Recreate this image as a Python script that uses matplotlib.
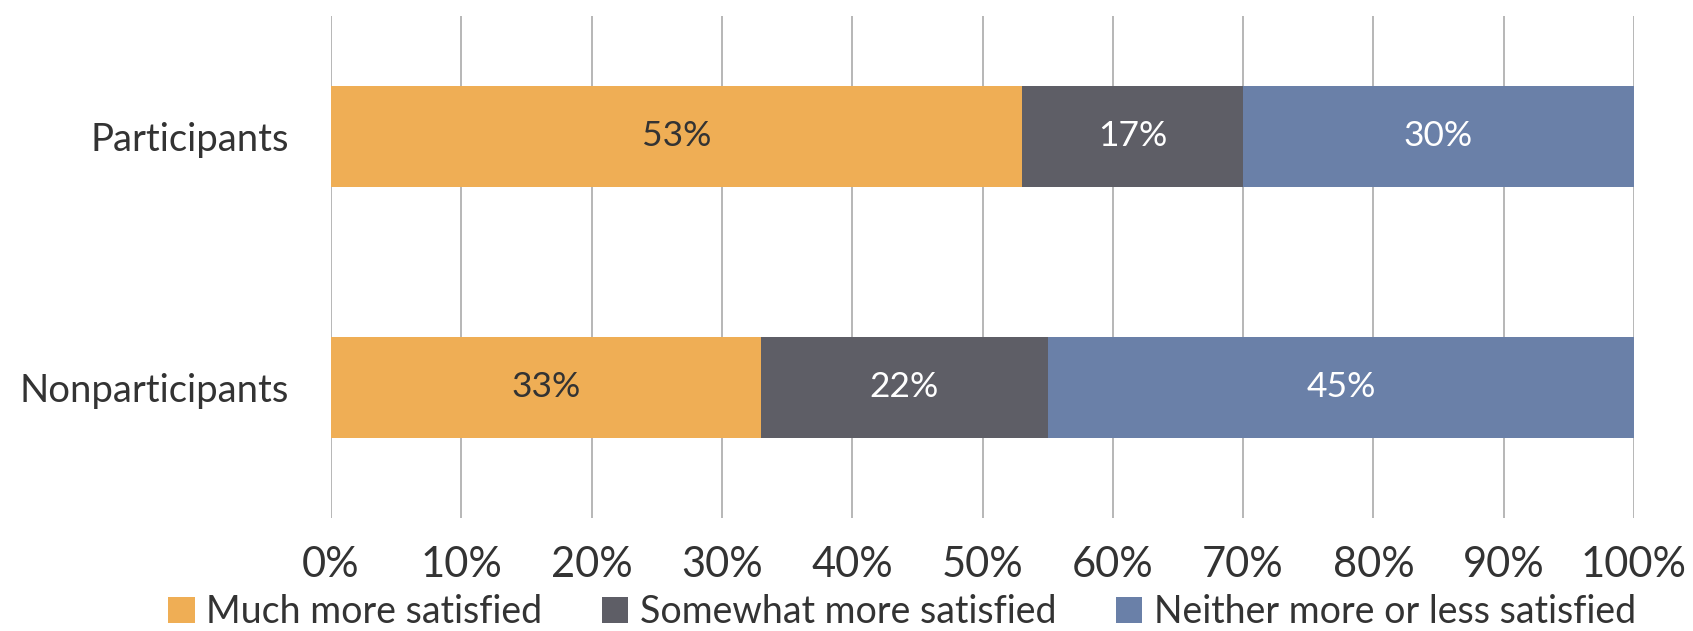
import matplotlib
matplotlib.use("Agg")
import matplotlib.pyplot as plt
import numpy as np

categories = ["Nonparticipants", "Participants"]
series_names = ["Much more satisfied", "Somewhat more satisfied", "Neither more or less satisfied"]
much = [33, 53]
somewhat = [22, 17]
neither = [45, 30]
colors = ["#EFAE55", "#5E5E66", "#6A80A8"]
label_colors = ["#333333", "white", "white"]
xticks = [0, 10, 20, 30, 40, 50, 60, 70, 80, 90, 100]
xtick_labels = [f"{v}%" for v in xticks]

plt.rcParams['font.family'] = ['Lato', 'DejaVu Sans']

fig = plt.figure(figsize=(16.93, 6.31), dpi=100)
ax = fig.add_axes([331/1693, 1-518/631, (1634-331)/1693, (518-16)/631])

y = np.arange(len(categories))
left = np.zeros(len(categories))
handles = []
for vals, name, c, lc in zip([much, somewhat, neither], series_names, colors, label_colors):
    bars = ax.barh(y, vals, left=left, height=0.40, color=c, label=name, zorder=3)
    for yi, v, l in zip(y, vals, left):
        ax.text(l + v/2, yi, f"{v}%", ha="center", va="center", color=lc, fontsize=25.5, zorder=4)
    left = left + np.array(vals)
    handles.append(bars)

ax.set_xlim(0, 100)
ax.set_ylim(-0.52, 1.48)
ax.set_xticks(xticks)
ax.set_xticklabels(xtick_labels, fontsize=30, color="#333333")
ax.set_yticks(y)
ax.set_yticklabels(categories, fontsize=27.5, color="#333333")
ax.tick_params(axis="both", length=0)
ax.tick_params(axis="x", pad=20)
ax.tick_params(axis="y", pad=30)
for s in ax.spines.values():
    s.set_visible(False)
ax.grid(axis="x", color="#AAAAAA", linewidth=1.2, zorder=0)
ax.set_axisbelow(True)

fig.legend(handles=handles, labels=series_names, loc="center",
           bbox_to_anchor=(902/1693, 1-612/631), ncol=3, frameon=False,
           fontsize=27, handlelength=0.7, handleheight=0.7, handletextpad=0.3,
           columnspacing=1.6, labelcolor="#333333")

fig.savefig("out.png", dpi=100, facecolor="white")
